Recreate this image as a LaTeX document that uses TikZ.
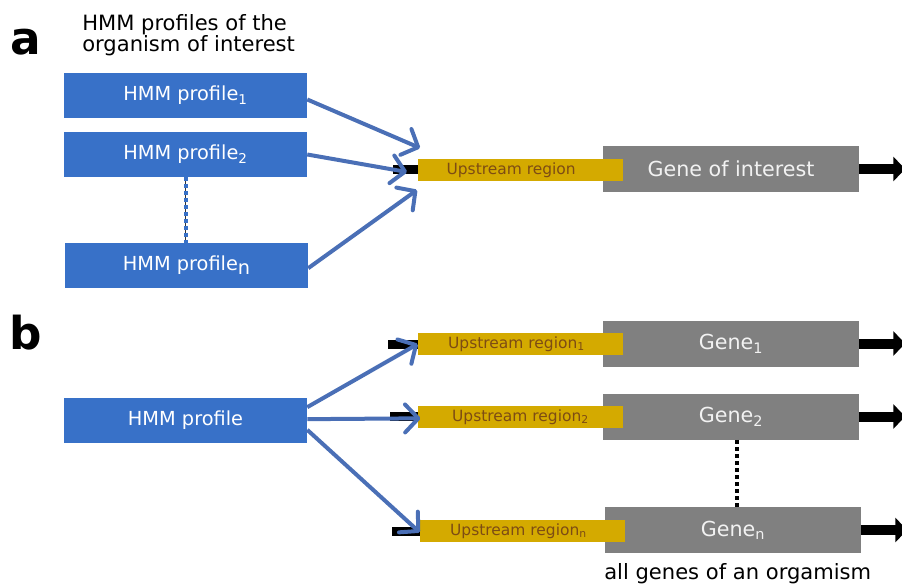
\documentclass[tikz,border=0pt]{standalone}
\usepackage{fontspec}
\setmainfont{DejaVu Sans}
\usetikzlibrary{arrows.meta, calc, positioning}
\definecolor{hmmblue}{RGB}{56,113,200}
\definecolor{flowblue}{RGB}{74,111,182}
\definecolor{upyellow}{RGB}{212,170,0}
\definecolor{uptext}{RGB}{125,76,20}
\definecolor{genegray}{RGB}{128,128,128}
\tikzset{
  hmmbox/.style  = {fill=hmmblue, text=white, minimum width=182.25pt, minimum height=33.75pt,
                    inner sep=0pt, font=\fontsize{14.5}{17}\selectfont},
  upbox/.style   = {fill=upyellow, text=uptext, minimum width=153.75pt, minimum height=16.5pt,
                    inner sep=0pt, font=\fontsize{11.6}{13}\selectfont},
  genebox/.style = {fill=genegray, text=white!95!black, minimum width=192pt, minimum height=34.5pt,
                    inner sep=0pt, font=\fontsize{15.5}{18}\selectfont},
  flow/.style    = {-{Straight Barb[length=10pt,width=21pt,round]}, line width=3pt, flowblue},
  lead/.style    = {line width=6.75pt, black},
  strand/.style  = {-{Triangle[length=9pt,width=18pt]}, line width=7.5pt, black},
  panel/.style   = {font=\fontsize{34}{34}\selectfont\bfseries, inner sep=0pt},
  note/.style    = {font=\fontsize{15.8}{15}\selectfont, align=left, inner sep=0pt},
}

\begin{document}
\begin{tikzpicture}[x=0.75pt, y=-0.75pt]
  \useasboundingbox (0,0) rectangle (902,585);

  % panel a
  \node[panel] (lbla) at (25.5,42) {a};
  \node[note, anchor=north west] (title) at (82,14) {HMM profiles of the\\organism of interest};
  \node[hmmbox] (hmm1) at (185.5,95.5) {\raisebox{-1.5pt}{HMM profile\textsubscript{1}}};
  \node[hmmbox] (hmm2) at (185.5,154.5) {\raisebox{-1.5pt}{HMM profile\textsubscript{2}}};
  \node[hmmbox] (hmmn) at (186.5,265.5) {\raisebox{-1.5pt}{HMM profile\raisebox{-3pt}{n}}};
  \draw[black!80, line width=0.6pt] (hmm2.south) -- (hmm2.south |- hmmn.north);
  \draw[hmmblue, line width=3pt, dash pattern=on 3pt off 2.2pt] (hmm2.south) -- (hmm2.south |- hmmn.north);

  \coordinate (s0) at (393,169);
  \draw[lead] (s0) -- (420,169);
  \node[genebox] (gene) at (731,169) {Gene of interest};
  \node[upbox] (up) at (520.5,170) {Upstream region\hspace*{14pt}};
  \draw[strand] (gene.east) -- ++(46,0);

  \coordinate (t1) at (420,148);
  \coordinate (t2) at (407,172);
  \coordinate (tn) at (417,190);
  \draw[flow] ([yshift=-3pt]hmm1.east) -- (t1);
  \draw[flow] (hmm2.east) -- (t2);
  \draw[flow] ([yshift=-2pt]hmmn.east) -- (tn);

  % panel b
  \node[panel] (lblb) at (26,333) {b};
  \node[hmmbox] (hmmb) at (185.5,420.5) {\raisebox{-1.5pt}{HMM profile}};

  \coordinate (b1) at (388,344);
  \coordinate (b2) at (390,416);
  \coordinate (bn) at (392,531);
  \draw[lead] (b1) -- (420,344);
  \draw[lead] (b2) -- (420,416);
  \draw[lead] (bn) -- (422,531);
  \node[genebox] (gene1) at (731,343.5) {Gene\textsubscript{1}};
  \node[genebox] (gene2) at (731,416.5) {Gene\textsubscript{2}};
  \node[genebox] (genen) at (733,530) {Gene\textsubscript{n}};
  \node[upbox] (up1) at (520.5,344) {Upstream region\textsubscript{1}\hspace*{6pt}};
  \node[upbox] (up2) at (520.5,417) {Upstream region\textsubscript{2}};
  \node[upbox] (upn) at (522.5,531) {Upstream region\textsubscript{n}\hspace*{6pt}};
  \draw[strand] (gene1.east) -- ++(46,0);
  \draw[strand] (gene2.east) -- ++(46,0);
  \draw[strand] (genen.east) -- ++(46,0);
  \draw[black, line width=3pt, dash pattern=on 3pt off 2.3pt] ([xshift=4.5pt]gene2.south) -- ([xshift=4.5pt]gene2.south |- genen.north);

  \draw[flow] ([yshift=10pt]hmmb.east) -- (up1.west);
  \draw[flow] ([yshift=1pt]hmmb.east) -- ([xshift=2pt,yshift=-1pt]up2.west);
  \draw[flow] ([yshift=-7pt]hmmb.east) -- ([yshift=-1pt]upn.west);

  \node[note, anchor=base west] (allg) at (604,579) {all genes of an orgamism};
\end{tikzpicture}
\end{document}
